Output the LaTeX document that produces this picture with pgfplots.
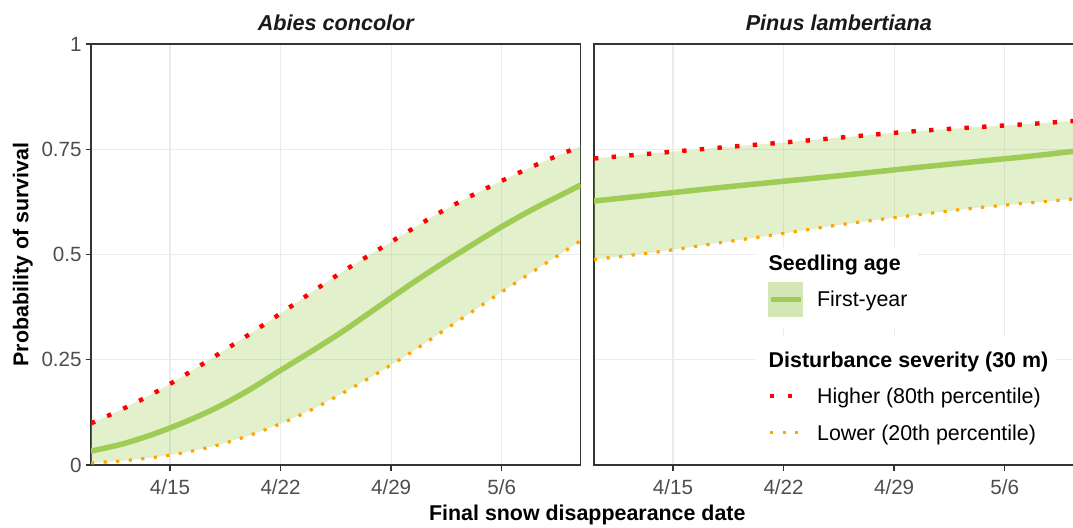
\documentclass[border=0pt]{standalone}
\usepackage{pgfplots}
\pgfplotsset{compat=1.18}
\usepackage{pgfplotstable}
\usepgfplotslibrary{fillbetween}
\usepackage{fontspec}
\setmainfont{Liberation Sans}

\definecolor{meancol}{HTML}{9FCC55}
\definecolor{keyfill}{HTML}{D2E7B5}
\definecolor{hicol}{HTML}{FF0000}
\definecolor{locol}{HTML}{FFA500}
\definecolor{gridc}{HTML}{EBEBEB}
\definecolor{framec}{HTML}{333333}
\definecolor{tickc}{HTML}{4D4D4D}
\definecolor{stripc}{HTML}{1A1A1A}

% Predicted survival by day of year of final snow disappearance:
% mean = first-year seedlings, hi/lo = 80th / 20th percentile disturbance
\pgfplotstableread{
day  mean   hi     lo
100  0.033  0.099  0.005
102  0.050  0.133  0.010
104  0.074  0.171  0.018
106  0.103  0.215  0.030
108  0.137  0.262  0.047
110  0.178  0.310  0.070
112  0.225  0.360  0.098
114  0.271  0.411  0.132
116  0.319  0.461  0.172
118  0.371  0.507  0.215
120  0.423  0.553  0.261
122  0.473  0.598  0.311
124  0.520  0.638  0.361
126  0.566  0.675  0.411
128  0.608  0.710  0.460
130  0.646  0.742  0.508
131  0.665  0.757  0.533
}\abies

\pgfplotstableread{
day  mean   hi     lo
100  0.627  0.728  0.488
104  0.643  0.741  0.506
108  0.659  0.754  0.528
112  0.674  0.766  0.550
116  0.689  0.779  0.573
120  0.705  0.792  0.592
124  0.720  0.802  0.610
128  0.735  0.811  0.624
131  0.748  0.819  0.634
}\pinus

\newcommand{\lbl}{\fontsize{10.7}{12.8}\selectfont}

\tikzset{
  hiline/.style={hicol, line width=2.2pt, dash pattern=on 2.2pt off 6.65pt},
  loline/.style={locol, line width=1.6pt, dash pattern=on 1.6pt off 4.7pt},
  meanline/.style={meancol, line width=2.75pt},
}

\pgfplotsset{
  panel/.style={
    scale only axis, width=244.85pt, height=210.5pt,
    anchor=south west,
    xmin=100, xmax=131, ymin=0, ymax=1,
    xtick={105,112,119,126}, xticklabels={4/15,4/22,4/29,5/6},
    ytick={0,0.25,0.5,0.75,1},
    xtick pos=left, ytick pos=left,
    tick align=outside, major tick length=2.75pt,
    grid=major,
    major grid style={line width=0.6pt, color=gridc},
    axis line style={line width=0.7pt, color=framec},
    major tick style={line width=0.7pt, color=framec},
    tick label style={font=\fontsize{10.3}{12}\selectfont, text=tickc, inner sep=0pt},
    xticklabel style={anchor=north, yshift=-4.25pt},
    yticklabel style={anchor=east, xshift=-1.75pt},
    every axis title/.style={at={(0.5,1)}, anchor=base, yshift=6.65pt,
      font=\fontsize{10.8}{13}\bfseries\itshape\selectfont, text=stripc, inner sep=0pt},
  },
}

\begin{document}
\begin{tikzpicture}

\begin{axis}[panel, at={(45.5pt,31pt)},
  title={Abies concolor},
  yticklabels={0,0.25,0.5,0.75,1},
  ylabel={Probability of survival},
  ylabel style={at={(axis description cs:-0.128,0.5)}, anchor=base,
    font=\lbl\bfseries, inner sep=0pt},
  xlabel={Final snow disappearance date},
  xlabel style={at={(axis description cs:1.0135,0)}, anchor=base, yshift=-27.5pt,
    font=\lbl\bfseries, inner sep=0pt},
]
\addplot[draw=none, name path=hiA, forget plot] table[x=day, y=hi] {\abies};
\addplot[draw=none, name path=loA, forget plot] table[x=day, y=lo] {\abies};
\addplot[fill=meancol, fill opacity=0.3, draw=none] fill between[of=hiA and loA];
\addplot[meanline, smooth] table[x=day, y=mean] {\abies};
\addplot[hiline, smooth] table[x=day, y=hi] {\abies};
\addplot[loline, smooth] table[x=day, y=lo] {\abies};
\end{axis}

\begin{axis}[panel, at={(297pt,31pt)},
  title={Pinus lambertiana},
  yticklabels={}, ytick style={draw=none},
]
\addplot[draw=none, name path=hiB, forget plot] table[x=day, y=hi] {\pinus};
\addplot[draw=none, name path=loB, forget plot] table[x=day, y=lo] {\pinus};
\addplot[fill=meancol, fill opacity=0.3, draw=none] fill between[of=hiB and loB];
\addplot[meanline, smooth] table[x=day, y=mean] {\pinus};
\addplot[hiline, smooth] table[x=day, y=hi] {\pinus};
\addplot[loline, smooth] table[x=day, y=lo] {\pinus};
\end{axis}

% legend: seedling age
\fill[white] (377.5pt,99pt) rectangle (459pt,140pt);
\node[anchor=base west, inner sep=0pt, font=\lbl\bfseries] at (384.15pt,128.5pt) {Seedling age};
\fill[keyfill] (384.15pt,105pt) rectangle (401.65pt,122.65pt);
\draw[meancol, line width=2.5pt] (385.5pt,113.85pt) -- (400.5pt,113.85pt);
\node[anchor=base west, inner sep=0pt, font=\lbl] at (408.35pt,110.15pt) {First-year};

% legend: disturbance severity
\fill[white] (377.5pt,31.5pt) rectangle (528pt,95pt);
\node[anchor=base west, inner sep=0pt, font=\lbl\bfseries] at (384.15pt,79.65pt) {Disturbance severity (30 m)};
\draw[hiline] (385pt,65.65pt) -- (397.5pt,65.65pt);
\node[anchor=base west, inner sep=0pt, font=\lbl] at (408.35pt,61.85pt) {Higher (80th percentile)};
\draw[loline] (385pt,47.15pt) -- (399.5pt,47.15pt);
\node[anchor=base west, inner sep=0pt, font=\lbl] at (408.35pt,43.5pt) {Lower (20th percentile)};

% page: the plotting area is cut at the right edge
\pgfresetboundingbox
\path[use as bounding box] (0,0) rectangle (536.5pt,263.5pt);
\end{tikzpicture}
\end{document}
